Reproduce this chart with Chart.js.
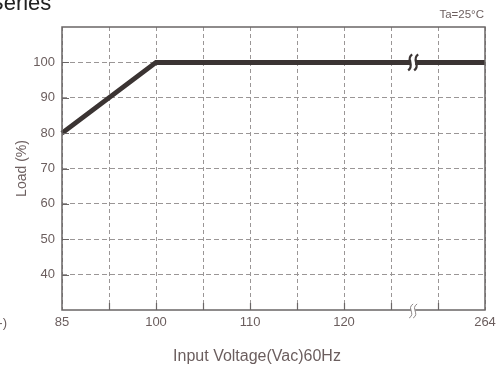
<!DOCTYPE html>
<html>
<head>
<meta charset="utf-8">
<script src="https://cdn.jsdelivr.net/npm/chart.js@4/dist/chart.umd.min.js"></script>
<style>
  html, body { margin: 0; padding: 0; background: #fff; }
  canvas { display: block; }
</style>
</head>
<body>
<canvas id="derating" width="501" height="369"></canvas>
<script>
const voltageLabels = ["85", "", "100", "", "110", "", "120", "", "", "264"];
const loadValues = [80, null, 100, null, null, null, null, null, null, 100];
const loadTicks = [40, 50, 60, 70, 80, 90, 100];
const breakAt = 7.45; // where the axis is broken, in slot units

const TEXT = "#6b5e5e";
const FRAME = "#6a6666";
const GRID = "#9a9696";
const LINE = "#3b3433";
const FONT = "'Liberation Sans', Arial, sans-serif";

function squiggle(ctx, x, y, h) {
  ctx.beginPath();
  ctx.moveTo(x + 2, y - h / 2);
  ctx.bezierCurveTo(x - 5, y - h / 5, x + 5, y + h / 5, x - 2, y + h / 2);
  ctx.stroke();
}

const decorations = {
  id: "decorations",
  afterDatasetsDraw(chart) {
    const { ctx, chartArea: a, scales } = chart;
    const xs = scales.x, ys = scales.y;
    ctx.save();

    // solid tick marks inside the frame
    ctx.strokeStyle = FRAME;
    ctx.lineWidth = 1.2;
    ctx.beginPath();
    loadTicks.forEach(v => {
      const y = Math.round(ys.getPixelForValue(v)) + 0.5;
      ctx.moveTo(a.left, y);
      ctx.lineTo(a.left + 7, y);
    });
    for (let i = 1; i < voltageLabels.length - 1; i++) {
      const x = Math.round(xs.getPixelForValue(i)) + 0.5;
      ctx.moveTo(x, a.bottom);
      ctx.lineTo(x, a.bottom - 7);
    }
    ctx.stroke();

    // frame
    ctx.lineWidth = 1.5;
    ctx.strokeRect(a.left, a.top, a.right - a.left, a.bottom - a.top);

    // break marks on the curve
    const bx = xs.getPixelForValue(breakAt);
    const by = ys.getPixelForValue(100);
    ctx.fillStyle = "#fff";
    ctx.fillRect(bx - 1, by - 4, 4, 8);
    ctx.strokeStyle = LINE;
    ctx.lineWidth = 2.4;
    squiggle(ctx, bx - 2, by, 16);
    squiggle(ctx, bx + 4, by, 16);

    // break marks on the x axis
    ctx.fillRect(bx - 1, a.bottom - 2, 4, 4);
    ctx.strokeStyle = "#8a8484";
    ctx.lineWidth = 1;
    squiggle(ctx, bx - 1, a.bottom + 1, 14);
    squiggle(ctx, bx + 3, a.bottom + 1, 14);

    // loose texts around the plot
    ctx.fillStyle = TEXT;
    ctx.font = "11.5px " + FONT;
    ctx.textAlign = "right";
    ctx.textBaseline = "alphabetic";
    ctx.fillText("Ta=25°C", a.right - 1, 18);

    ctx.font = "16px " + FONT;
    ctx.textAlign = "center";
    ctx.textBaseline = "middle";
    ctx.fillText("Input Voltage(Vac)60Hz", 257, 357);

    ctx.fillStyle = "#222";
    ctx.font = "22px " + FONT;
    ctx.textAlign = "left";
    ctx.textBaseline = "alphabetic";
    ctx.fillText("Series", -11, 10);

    ctx.fillStyle = TEXT;
    ctx.font = "13px " + FONT;
    ctx.textAlign = "right";
    ctx.fillText("-)", 7, 327);
    ctx.restore();
  }
};

new Chart(document.getElementById("derating"), {
  type: "line",
  data: {
    labels: voltageLabels,
    datasets: [{
      data: loadValues,
      borderColor: LINE,
      borderWidth: 5,
      pointRadius: 0,
      spanGaps: true,
      tension: 0
    }]
  },
  options: {
    responsive: false,
    animation: false,
    layout: { padding: { top: 27, right: 16, left: 0, bottom: 0 } },
    plugins: { legend: { display: false }, tooltip: { enabled: false } },
    scales: {
      x: {
        type: "category",
        offset: false,
        afterFit: s => { s.height = 59; },
        grid: { color: GRID, lineWidth: 1, drawTicks: false },
        border: { display: false, dash: [4, 3] },
        ticks: {
          autoSkip: false,
          maxRotation: 0,
          padding: 5,
          color: TEXT,
          font: { family: FONT, size: 13 },
          callback: (v, i) => voltageLabels[i]
        }
      },
      y: {
        min: 30,
        max: 110,
        afterFit: s => { s.width = 62; },
        afterBuildTicks: s => { s.ticks = loadTicks.map(v => ({ value: v })); },
        grid: { color: GRID, lineWidth: 1, drawTicks: false },
        border: { display: false, dash: [5, 3] },
        ticks: {
          padding: 7,
          color: TEXT,
          font: { family: FONT, size: 13 }
        },
        title: {
          display: true,
          text: "Load (%)",
          color: TEXT,
          font: { family: FONT, size: 14 },
          padding: { top: 14, bottom: 0 }
        }
      }
    }
  },
  plugins: [decorations]
});
</script>
</body>
</html>
